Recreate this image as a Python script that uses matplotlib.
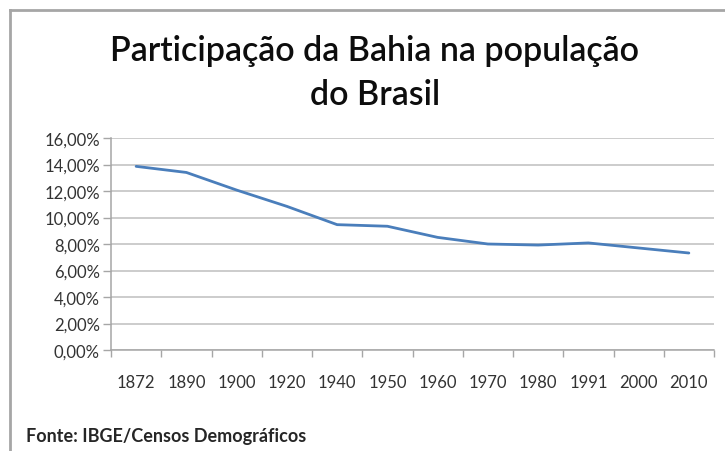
import matplotlib
matplotlib.use("Agg")
import matplotlib.pyplot as plt
from matplotlib.lines import Line2D
from matplotlib.ticker import FuncFormatter, MultipleLocator

anos = ["1872", "1890", "1900", "1920", "1940", "1950", "1960", "1970", "1980", "1991", "2000", "2010"]
participacao = [13.86, 13.40, 12.07, 10.84, 9.46, 9.34, 8.50, 8.00, 7.92, 8.08, 7.70, 7.32]

titulo_linhas = ["Participação da Bahia na população", "do Brasil"]
fonte = "Fonte: IBGE/Censos Demográficos"

plt.rcParams['font.family'] = ['Lato', 'DejaVu Sans']

fig = plt.figure(figsize=(7.25, 4.52), dpi=100)
fig.patch.set_facecolor("white")

# outer frame (left and top)
fig.add_artist(Line2D([9.5/725, 9.5/725], [0, 1 - 11/452], transform=fig.transFigure, color="#a6a6a6", lw=2))
fig.add_artist(Line2D([9.5/725, 1], [1 - 11/452, 1 - 11/452], transform=fig.transFigure, color="#a6a6a6", lw=2))

ax = fig.add_axes([111/725, 1 - 351/452, (714 - 111)/725, (351 - 139)/452])
x = list(range(len(anos)))
ax.plot(x, participacao, color="#4a7ebb", lw=2.0, solid_capstyle="round", zorder=3)

ax.set_xlim(-0.5, len(anos) - 0.5)
ax.set_ylim(0, 16)
ax.yaxis.set_major_locator(MultipleLocator(2))
ax.yaxis.set_major_formatter(FuncFormatter(lambda v, p: f"{v:.2f}".replace(".", ",") + "%"))
ax.grid(axis="y", color="#bfbfbf", lw=1.1)
ax.set_axisbelow(True)

ax.set_xticks(x)
ax.set_xticklabels(anos)
ax.set_xticks([i - 0.5 for i in range(len(anos) + 1)], minor=True)
ax.tick_params(axis="x", which="major", length=0, pad=17, labelsize=12, labelcolor="#333333")
ax.tick_params(axis="x", which="minor", length=5, color="#a6a6a6", width=1)
ax.tick_params(axis="y", length=6, color="#a6a6a6", width=1, pad=2, labelsize=12, labelcolor="#333333")

for s in ["top", "right"]:
    ax.spines[s].set_visible(False)
for s in ["left", "bottom"]:
    ax.spines[s].set_color("#a6a6a6")
    ax.spines[s].set_linewidth(1.1)

for linha, base in zip(titulo_linhas, [61, 105]):
    fig.text(375/725, 1 - base/452, linha, ha="center", va="baseline", fontsize=24.5,
             fontweight="semibold", color="#0d0d0d")
fig.text(26/725, 1 - 442/452, fonte, ha="left", va="baseline", fontsize=13,
         fontweight="bold", color="#262626")

fig.savefig("out.png", dpi=100, facecolor="white")
